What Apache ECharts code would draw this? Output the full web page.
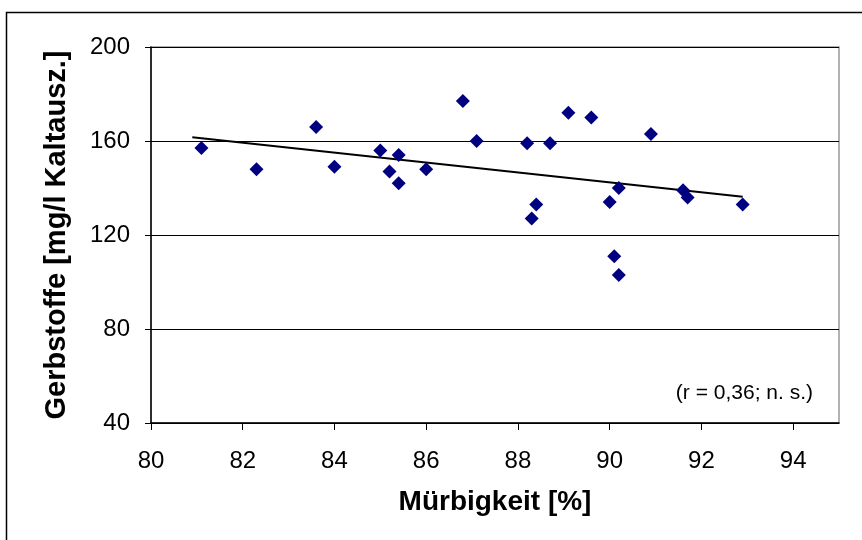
<!DOCTYPE html>
<html>
<head>
<meta charset="utf-8">
<script src="https://cdn.jsdelivr.net/npm/echarts@6/dist/echarts.min.js"></script>
<style>
  html, body { margin: 0; padding: 0; background: #fff; }
  #chart { width: 862px; height: 540px; }
</style>
</head>
<body>
<div id="chart"></div>
<script>
// Mürbigkeit (%) of each sample
const muerbigkeit = [81.1, 82.3, 83.6, 84.0, 85.0, 85.2, 85.4, 85.4, 86.0, 86.8, 87.1,
                     88.2, 88.7, 89.1, 89.6, 90.9, 88.4, 88.3, 90.0, 90.2, 90.1, 90.2,
                     91.6, 91.7, 92.9];
// Gerbstoffe (mg/l Kaltauszug) of each sample
const gerbstoffe = [157, 148, 166, 149, 156, 147, 154, 142, 148, 177, 160,
                    159, 159, 172, 170, 163, 133, 127, 134, 140, 111, 103,
                    139, 136, 133];
// x extent of the drawn regression line
const trendRange = [80.9, 92.9];
const xTicks = [80, 82, 84, 86, 88, 90, 92, 94];
const yTicks = [40, 80, 120, 160, 200];
const xTitle = 'Mürbigkeit [%]';
const yTitle = 'Gerbstoffe [mg/l Kaltausz.]';
const note = '(r = 0,36; n. s.)';

// least-squares fit y = a + b·x
const n = muerbigkeit.length;
const mx = muerbigkeit.reduce((s, v) => s + v, 0) / n;
const my = gerbstoffe.reduce((s, v) => s + v, 0) / n;
let sxy = 0, sxx = 0;
for (let i = 0; i < n; i++) {
  sxy += (muerbigkeit[i] - mx) * (gerbstoffe[i] - my);
  sxx += (muerbigkeit[i] - mx) * (muerbigkeit[i] - mx);
}
const slope = sxy / sxx;
const intercept = my - slope * mx;
const trend = trendRange.map(x => [x, intercept + slope * x]);

const points = muerbigkeit.map((x, i) => [x, gerbstoffe[i]]);

const font = 'Liberation Sans, Arial, sans-serif';
const chart = echarts.init(document.getElementById('chart'), null, { renderer: 'canvas' });

chart.setOption({
  animation: false,
  backgroundColor: '#ffffff',
  grid: {
    left: 151, top: 47, right: 23, bottom: 117,
    show: true, borderColor: '#999999', borderWidth: 1.5, backgroundColor: 'transparent'
  },
  xAxis: {
    type: 'value',
    min: 80, max: 95, interval: 2,
    name: xTitle,
    nameLocation: 'middle',
    nameGap: 65,
    nameTextStyle: { fontFamily: font, fontSize: 28, fontWeight: 'bold', color: '#000' },
    axisLine: { onZero: false, lineStyle: { color: '#000', width: 1.5 } },
    axisTick: { show: true, length: 7, lineStyle: { color: '#000' } },
    axisLabel: {
      fontFamily: font, fontSize: 24, color: '#000', margin: 26,
      formatter: v => (xTicks.indexOf(v) >= 0 ? String(v) : ''),
      showMaxLabel: false
    },
    splitLine: { show: false }
  },
  yAxis: {
    type: 'value',
    min: 40, max: 200, interval: 40,
    name: yTitle,
    nameLocation: 'middle',
    nameGap: 80,
    nameTextStyle: { fontFamily: font, fontSize: 29, fontWeight: 'bold', color: '#000' },
    axisLine: { show: true, lineStyle: { color: '#000', width: 1.5 } },
    axisTick: { show: true, length: 6, lineStyle: { color: '#000' } },
    axisLabel: {
      fontFamily: font, fontSize: 24, color: '#000', margin: 21,
      formatter: v => (yTicks.indexOf(v) >= 0 ? String(v) : '')
    },
    splitLine: { show: true, lineStyle: { color: '#000', width: 1 } }
  },
  series: [
    {
      type: 'scatter',
      data: points,
      symbol: 'diamond',
      symbolSize: 14,
      itemStyle: { color: '#000080', opacity: 1 },
      z: 3
    },
    {
      type: 'line',
      data: trend,
      showSymbol: false,
      symbol: 'none',
      lineStyle: { color: '#000', width: 2.2 },
      z: 2
    }
  ],
  graphic: [
    {
      type: 'rect',
      shape: { x: 6.5, y: 12.5, width: 900, height: 600 },
      style: { fill: 'none', stroke: '#000', lineWidth: 1.5 },
      silent: true
    },
    {
      type: 'text',
      right: 49,
      top: 383,
      style: { text: note, font: '21px ' + font, fill: '#000' }
    }
  ]
});
</script>
</body>
</html>
